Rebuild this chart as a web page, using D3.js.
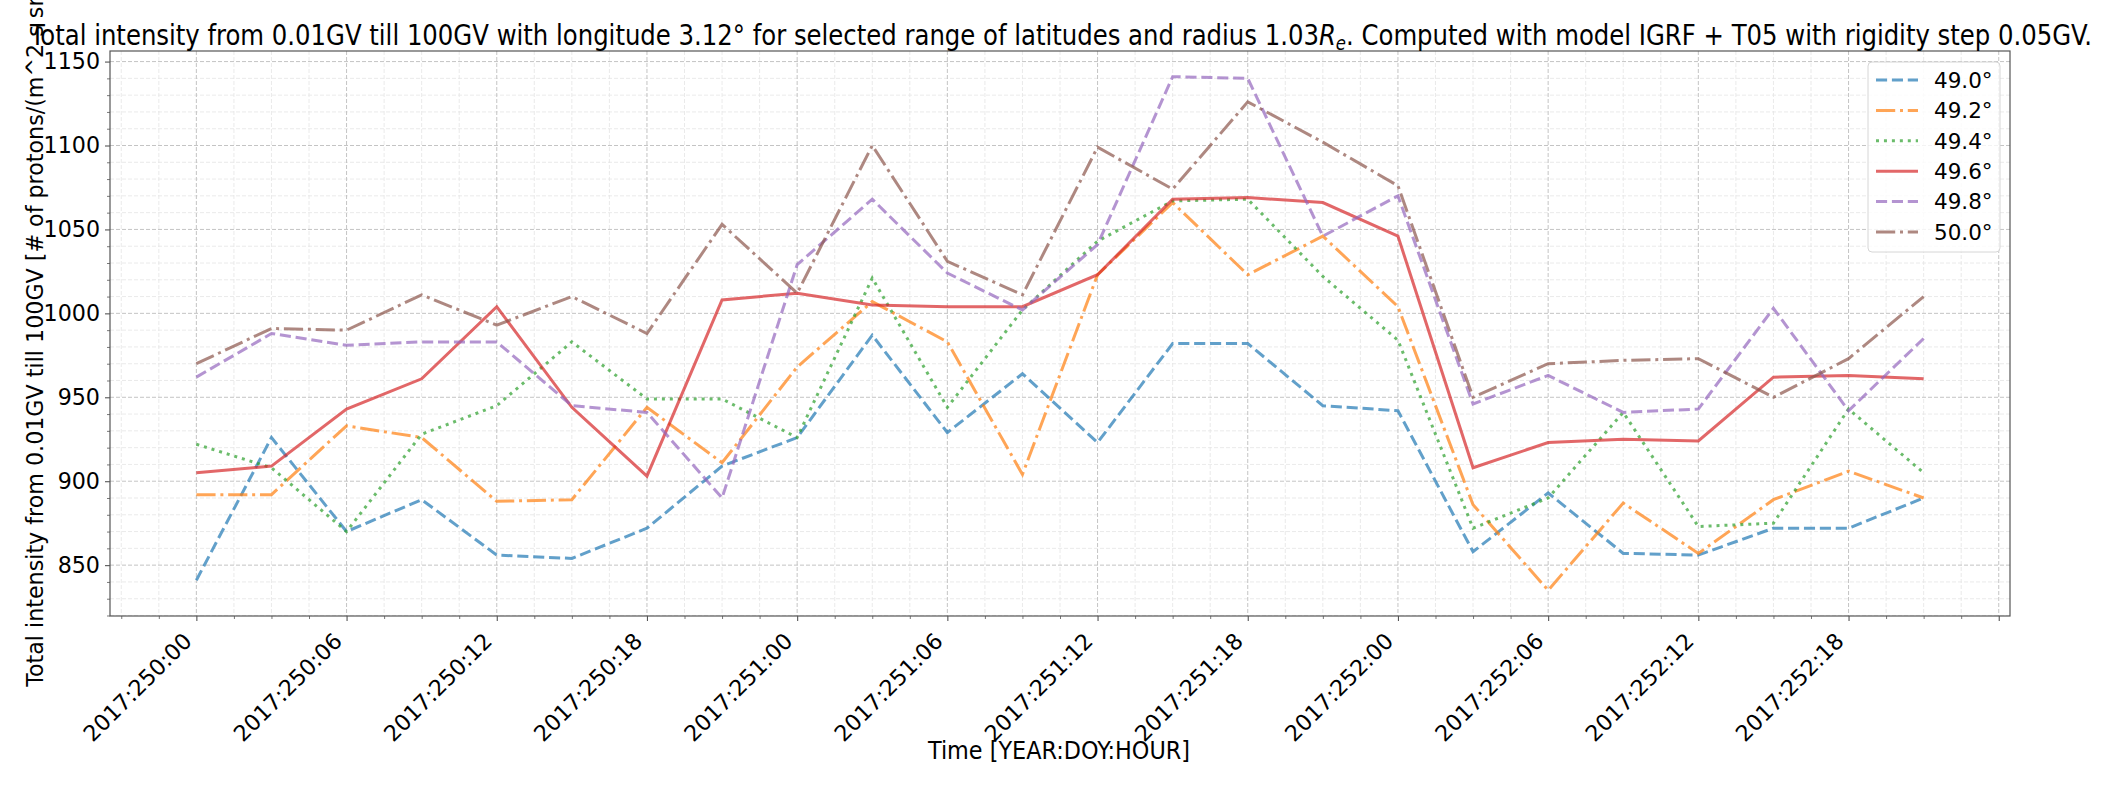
<!DOCTYPE html>
<html><head><meta charset="utf-8">
<script src="https://cdn.jsdelivr.net/npm/d3@7"></script>
<style>
html,body{margin:0;padding:0;background:#fff;overflow:hidden}
text{font-family:"DejaVu Sans",sans-serif;fill:#000}
.cond{font-family:"DejaVu Sans Condensed","DejaVu Sans",sans-serif;font-stretch:condensed}
</style></head>
<body><svg id="c" width="2115" height="785"></svg>
<script>
const hours = [0,3,6,9,12,15,18,21,24,27,30,33,36,39,42,45,48,51,54,57,60,63,66,69];
const seriesNames = ["49.0°","49.2°","49.4°","49.6°","49.8°","50.0°"];
const lat49_0 = [841,926,870,889,856,854,872,909,926,987,929,964,923,982,982,945,942,858,893,857,856,872,872,890];
const lat49_2 = [892,892,933,926,888,889,944,911,968,1007,983,904,1023,1066,1023,1046,1004,886,835,887,857,889,906,890];
const lat49_4 = [922,908,870,928,945,983,949,949,926,1021,944,1002,1043,1067,1068,1022,984,872,890,941,873,875,943,905];
const lat49_6 = [905,909,943,961,1004,944,903,1008,1012,1005,1004,1004,1023,1068,1069,1066,1046,908,923,925,924,962,963,961];
const lat49_8 = [962,988,981,983,983,945,941,890,1029,1068,1024,1002,1041,1141,1140,1046,1070,946,963,941,943,1003,942,985];
const lat50_0 = [970,991,990,1011,993,1010,988,1053,1012,1100,1031,1011,1099,1074,1126,1102,1076,950,970,972,973,950,973,1010];
const xTickHours = [0,6,12,18,24,30,36,42,48,54,60,66,72];
const xTickLabels = ["2017:250:00","2017:250:06","2017:250:12","2017:250:18","2017:251:00","2017:251:06","2017:251:12","2017:251:18","2017:252:00","2017:252:06","2017:252:12","2017:252:18",""];
const yTicks = [850,900,950,1000,1050,1100,1150];
const colors = ["#1f77b4","#ff7f0e","#2ca02c","#d62728","#9467bd","#8c564b"];
const styles = ["dash","dashdot","dot","solid","dash","dashdot"];

const allSeries = [lat49_0,lat49_2,lat49_4,lat49_6,lat49_8,lat50_0];
const svg = d3.select("#c");
const L=110,R=2010,T=51,B=616;
const lw = 3.0;
const dashes = {solid:null, dash:[3.7*lw,1.6*lw].join(","), dashdot:[6.4*lw,1.6*lw,1*lw,1.6*lw].join(","), dot:[1*lw,1.65*lw].join(",")};

const xMin = d3.min(hours), xMax = d3.max(hours), xm = (xMax-xMin)*0.05;
const x = d3.scaleLinear().domain([xMin-xm, xMax+xm]).range([L,R]);
const allV = allSeries.flat();
const yMin = d3.min(allV), yMax = d3.max(allV), ym=(yMax-yMin)*0.05;
const y = d3.scaleLinear().domain([yMin-ym, yMax+ym]).range([B,T]);

// grid
const xMinor = d3.range(-3, 72.5, 1.5).filter(v=>xTickHours.indexOf(v)<0 && v>=x.domain()[0] && v<=x.domain()[1]);
const yMinor = d3.range(820, 1160, 10).filter(v=>yTicks.indexOf(v)<0 && v>=y.domain()[0] && v<=y.domain()[1]);
const g = svg.append("g");
g.selectAll(".mgx").data(xMinor).join("line").attr("x1",d=>x(d)).attr("x2",d=>x(d)).attr("y1",T).attr("y2",B)
 .attr("stroke","#e4e4e4").attr("stroke-width",0.8).attr("stroke-dasharray","4,2");
g.selectAll(".mgy").data(yMinor).join("line").attr("x1",L).attr("x2",R).attr("y1",d=>y(d)).attr("y2",d=>y(d))
 .attr("stroke","#e4e4e4").attr("stroke-width",0.8).attr("stroke-dasharray","4,2");
g.selectAll(".Mgx").data(xTickHours).join("line").attr("x1",d=>x(d)).attr("x2",d=>x(d)).attr("y1",T).attr("y2",B)
 .attr("stroke","#bdbdbd").attr("stroke-width",0.9).attr("stroke-dasharray","4,2");
g.selectAll(".Mgy").data(yTicks).join("line").attr("x1",L).attr("x2",R).attr("y1",d=>y(d)).attr("y2",d=>y(d))
 .attr("stroke","#bdbdbd").attr("stroke-width",0.9).attr("stroke-dasharray","4,2");

// lines
const line = d3.line().x((d,i)=>x(hours[i])).y(d=>y(d));
svg.append("clipPath").attr("id","clp").append("rect").attr("x",L).attr("y",T).attr("width",R-L).attr("height",B-T);
allSeries.forEach((s,i)=>{
  svg.append("path").attr("d",line(s)).attr("fill","none").attr("stroke",colors[i]).attr("stroke-opacity",0.7)
    .attr("stroke-width",lw).attr("stroke-dasharray",dashes[styles[i]]).attr("clip-path","url(#clp)");
});

// axes
const axCol="#555";
const fs = 22.2;
const xAxis = d3.axisBottom(x).tickValues(xTickHours).tickFormat((d,i)=>xTickLabels[i]).tickSize(5).tickPadding(0);
const gx = svg.append("g").attr("transform",`translate(0,${B})`).call(xAxis);
gx.select(".domain").remove();
gx.selectAll(".tick line").attr("stroke",axCol).attr("stroke-width",1.1);
gx.selectAll(".tick text").attr("font-size",fs).attr("text-anchor","end").attr("y",null)
  .attr("transform","translate(0,"+(12+0.707*1.164*fs)+") rotate(-45)").attr("dy","-0.236em").attr("fill","#000");
svg.append("g").attr("transform",`translate(0,${B})`).call(d3.axisBottom(x).tickValues(xMinor).tickFormat("").tickSize(3))
  .call(a=>{a.select(".domain").remove(); a.selectAll("line").attr("stroke",axCol).attr("stroke-width",0.8);});
const yAxis = d3.axisLeft(y).tickValues(yTicks).tickFormat(d3.format("d")).tickSize(5).tickPadding(5);
const gy = svg.append("g").attr("transform",`translate(${L},0)`).call(yAxis);
gy.select(".domain").remove();
gy.selectAll(".tick line").attr("stroke",axCol).attr("stroke-width",1.1);
gy.selectAll(".tick text").attr("font-size",fs).attr("fill","#000");
svg.append("g").attr("transform",`translate(${L},0)`).call(d3.axisLeft(y).tickValues(yMinor).tickFormat("").tickSize(3))
  .call(a=>{a.select(".domain").remove(); a.selectAll("line").attr("stroke",axCol).attr("stroke-width",0.8);});
svg.append("rect").attr("x",L).attr("y",T).attr("width",R-L).attr("height",B-T).attr("fill","none").attr("stroke",axCol).attr("stroke-width",1.2);

// legend
const lg = svg.append("g");
lg.append("rect").attr("x",1868).attr("y",62).attr("width",132).attr("height",190).attr("rx",4)
  .attr("fill","#fff").attr("fill-opacity",0.8).attr("stroke","#d6d6d6").attr("stroke-width",1);
seriesNames.forEach((n,i)=>{
  const cy = 80 + i*30.4;
  lg.append("line").attr("x1",1876).attr("x2",1918).attr("y1",cy).attr("y2",cy).attr("stroke",colors[i]).attr("stroke-opacity",0.7)
    .attr("stroke-width",lw).attr("stroke-dasharray",dashes[styles[i]]);
  lg.append("text").attr("x",1934).attr("y",cy).attr("dy","0.36em").attr("font-size",21.5).text(n);
});

// title
const t = svg.append("text").attr("class","cond").attr("x",1061).attr("y",45).attr("text-anchor","middle").attr("font-size",28)
  .attr("textLength",2062).attr("lengthAdjust","spacingAndGlyphs");
t.append("tspan").text("Total intensity from 0.01GV till 100GV with longitude 3.12° for selected range of latitudes and radius 1.03");
t.append("tspan").attr("font-style","italic").text("R");
t.append("tspan").attr("font-style","italic").attr("font-size",19).attr("dy",5).text("e");
t.append("tspan").attr("dy",-5).text(". Computed with model IGRF + T05 with rigidity step 0.05GV.");

// x label
svg.append("text").attr("class","cond").attr("x",1059).attr("y",759).attr("text-anchor","middle").attr("font-size",24)
  .attr("textLength",262).attr("lengthAdjust","spacingAndGlyphs").text("Time [YEAR:DOY:HOUR]");
// y label
svg.append("text").attr("transform",`translate(43,${(T+B)/2}) rotate(-90)`).attr("text-anchor","middle").attr("font-size",fs)
  .text("Total intensity from 0.01GV till 100GV [# of protons/(m^2 s sr)]");
</script></body></html>
